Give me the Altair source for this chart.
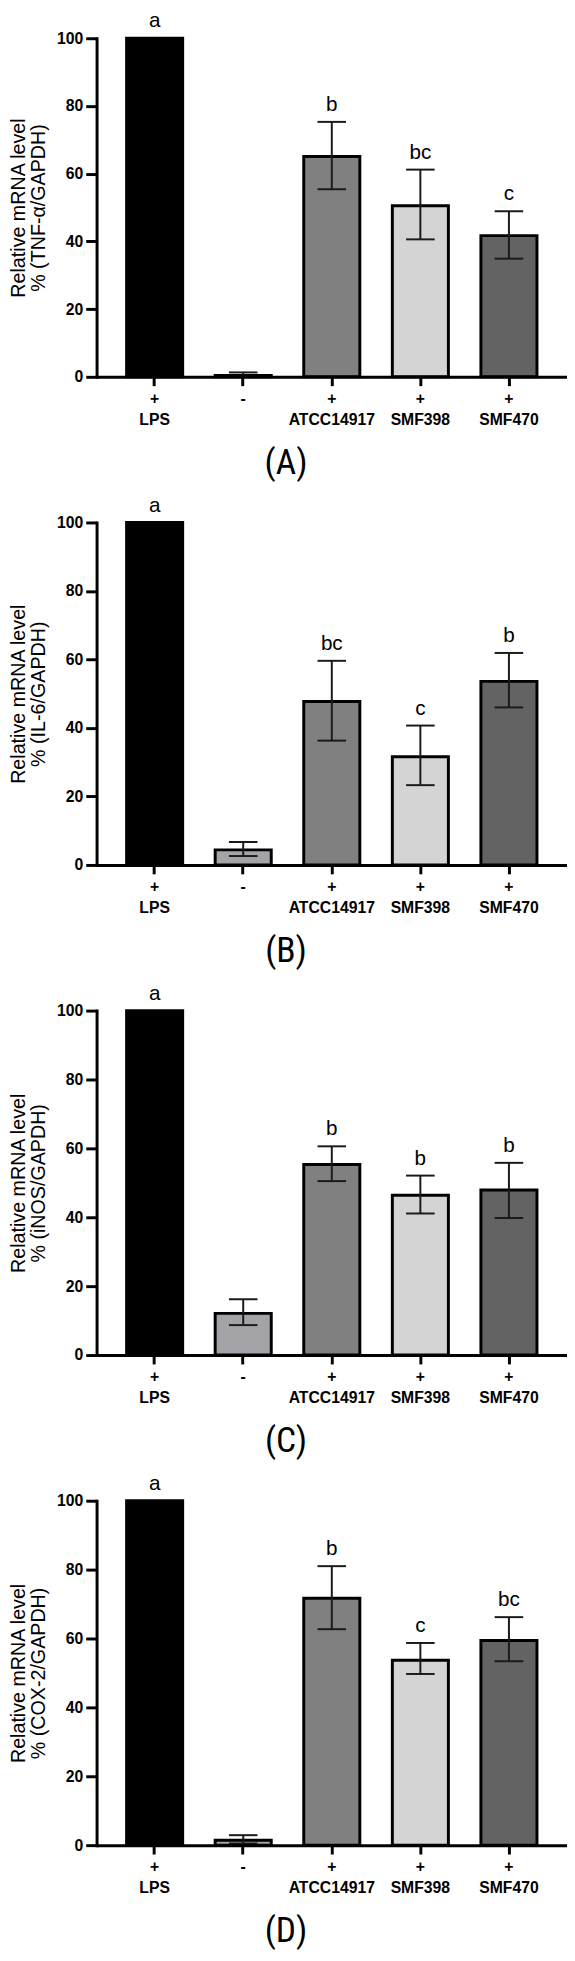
import altair as alt
import pandas as pd

# ---------------- data ----------------
categories = ["LPS", "-", "ATCC14917", "SMF398", "SMF470"]
y_ticks = [0, 20, 40, 60, 80, 100]

# (A) TNF-alpha
a_mean = [100, 0.4, 65.1, 50.5, 41.7]
a_low = [None, 0.0, 55.4, 40.6, 34.9]
a_high = [None, 1.3, 75.3, 61.2, 48.9]
a_letters = ["a", "", "b", "bc", "c"]

# (B) IL-6
b_mean = [100, 4.4, 47.7, 31.6, 53.6]
b_low = [None, 2.6, 36.3, 23.3, 46.0]
b_high = [None, 6.7, 59.6, 40.7, 61.9]
b_letters = ["a", "", "bc", "c", "b"]

# (C) iNOS
c_mean = [100, 12.1, 55.3, 46.4, 47.9]
c_low = [None, 8.7, 50.5, 41.1, 39.8]
c_high = [None, 16.2, 60.6, 52.1, 55.8]
c_letters = ["a", "", "b", "b", "b"]

# (D) COX-2
d_mean = [100, 1.4, 71.7, 53.7, 59.4]
d_low = [None, 0.5, 62.7, 49.7, 53.4]
d_high = [None, 2.9, 81.0, 58.7, 66.2]
d_letters = ["a", "", "b", "c", "bc"]

titles = [
    ["Relative mRNA level", "% (TNF-α/GAPDH)"],
    ["Relative mRNA  level", "% (IL-6/GAPDH)"],
    ["Relative mRNA  level", "% (iNOS/GAPDH)"],
    ["Relative mRNA level", "% (COX-2/GAPDH)"],
]
tags = ["(A)", "(B)", "(C)", "(D)"]

# ---------------- style ----------------
fills = ["#000000", "#a4a3a8", "#808080", "#d4d4d4", "#636363"]
FONT = "Liberation Sans, Arial, Helvetica, sans-serif"
NARROW = "Liberation Sans Narrow, Arial Narrow, Roboto Condensed, Roboto, sans-serif"
PLOT_W = 478


def panel(mean, low, high, letters, ytitle, tag, h):
    df = pd.DataFrame({
        "cat": categories,
        "mean": mean,
        "low": low,
        "high": high,
        "letter": letters,
        "fill": fills,
    })
    df["top"] = df["high"].fillna(df["mean"])

    yscale = alt.Scale(domain=[0, 100], nice=False)
    yaxis = alt.Axis(
        title=ytitle,
        values=y_ticks,
        domain=True,
        domainColor="black",
        domainWidth=3,
        domainCap="square",
        labelFont=FONT,
        labelFontSize=16,
        labelFontWeight="bold",
        labelPadding=3,
        ticks=True,
        tickSize=11,
        tickWidth=3,
        titleFont=FONT,
        titleFontSize=20,
        titleFontWeight="normal",
        titleLineHeight=21,
        titlePadding=8,
        zindex=1,
    )
    base = alt.Chart(df).encode(
        x=alt.X(
            "cat:N",
            sort=categories,
            scale=alt.Scale(paddingInner=0.367, paddingOuter=0.339),
            axis=alt.Axis(
                title=tag,
                labelExpr="datum.value == '-' ? '-' : ['+', datum.value]",
                labelAngle=0,
                labelFont=FONT,
                labelFontSize=16,
                labelFontWeight="bold",
                labelPadding=5,
                labelLineHeight=21,
                domain=True,
                domainColor="black",
                domainWidth=3,
                tickSize=9,
                tickWidth=3,
                titleFont=NARROW,
                titleFontSize=36,
                titleFontWeight="normal",
                titleAngle=0,
                titleAlign="center",
                titleBaseline="alphabetic",
                titleX=192,
                titleY=98,
                zindex=1,
            ),
        )
    )

    bars = base.mark_bar(stroke="black", strokeWidth=3).encode(
        y=alt.Y("mean:Q", scale=yscale, axis=yaxis),
        color=alt.Color("fill:N", scale=None),
    )
    rules = base.mark_rule(strokeWidth=2, color="#1a1a1a").encode(
        y=alt.Y("low:Q", scale=yscale, axis=yaxis), y2="high:Q"
    )
    cap_lo = base.mark_tick(size=29, thickness=2, color="#1a1a1a", opacity=1).encode(
        y=alt.Y("low:Q", scale=yscale, axis=yaxis)
    )
    cap_hi = base.mark_tick(size=29, thickness=2, color="#1a1a1a", opacity=1).encode(
        y=alt.Y("high:Q", scale=yscale, axis=yaxis)
    )
    text = base.mark_text(
        dy=-11, baseline="alphabetic", fontSize=21, font=FONT, color="black"
    ).encode(y=alt.Y("top:Q", scale=yscale, axis=yaxis), text="letter:N")

    return alt.layer(bars, rules, cap_lo, cap_hi, text).properties(width=PLOT_W, height=h)


pA = panel(a_mean, a_low, a_high, a_letters, titles[0], tags[0], 344)
pB = panel(b_mean, b_low, b_high, b_letters, titles[1], tags[1], 348)
pC = panel(c_mean, c_low, c_high, c_letters, titles[2], tags[2], 350)
pD = panel(d_mean, d_low, d_high, d_letters, titles[3], tags[3], 350)

chart = (
    alt.vconcat(pA, pB, pC, pD, spacing=148, bounds="flush")
    .properties(padding={"left": 0, "top": -13, "right": 0, "bottom": 0})
    .configure_view(stroke=None)
    .configure_axis(
        grid=False,
        domainColor="black",
        tickColor="black",
        labelColor="black",
        titleColor="black",
    )
)

chart.save("out.html", embed_options={"renderer": "svg", "actions": False})
